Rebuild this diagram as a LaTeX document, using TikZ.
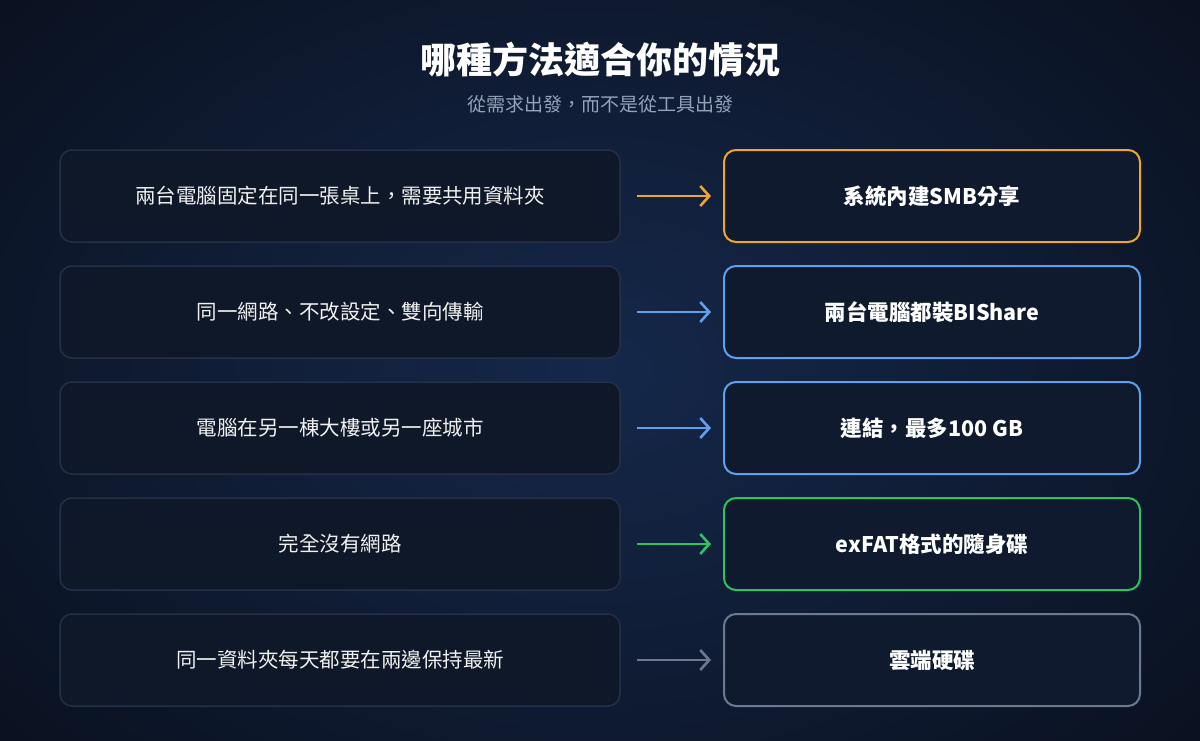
\documentclass[tikz,border=0pt]{standalone}
\usepackage{fontspec}
\setmainfont{Noto Sans CJK TC}
\usetikzlibrary{arrows.meta}
\definecolor{bgout}{HTML}{0A1120}
\definecolor{bgin}{HTML}{15284A}
\definecolor{lfill}{HTML}{0F1828}
\definecolor{lline}{HTML}{243047}
\definecolor{rfill}{HTML}{0F1A2E}
\definecolor{cor}{HTML}{F0A52C}
\definecolor{cbl}{HTML}{5FA0EE}
\definecolor{cgr}{HTML}{2CC45E}
\definecolor{cgy}{HTML}{6B7A90}
\definecolor{sub}{HTML}{94A3B8}
\begin{document}
\begin{tikzpicture}[x=1pt,y=-1pt,
  lbox/.style={draw=lline,line width=1.5pt,fill=lfill,rounded corners=12pt,minimum width=560pt,minimum height=92pt,text=white!88!gray,font=\fontsize{20.5}{24}\selectfont},
  rbox/.style={line width=2pt,fill=rfill,rounded corners=12pt,minimum width=416pt,minimum height=92pt,text=white,font=\bfseries\fontsize{21.5}{25}\selectfont},
  arr/.style={line width=2.6pt,-{Straight Barb[length=9pt,width=20pt,line width=2.6pt]}}]
\useasboundingbox (0,0) rectangle (1200,740);
\shade[inner color=bgin,outer color=bgout] (-200,-200) rectangle (1400,940);
\node[text=white,font=\bfseries\fontsize{36}{40}\selectfont] (t) at (600,60) {哪種方法適合你的情況};
\node[text=sub,font=\fontsize{19}{22}\selectfont] (s) at (600,104) {從需求出發，而不是從工具出發};
\foreach \i/\l/\r/\c in {0/兩台電腦固定在同一張桌上，需要共用資料夾/系統內建SMB分享/cor,
  1/同一網路、不改設定、雙向傳輸/兩台電腦都裝BIShare/cbl,
  2/電腦在另一棟大樓或另一座城市/連結，最多100 GB/cbl,
  3/完全沒有網路/exFAT格式的隨身碟/cgr,
  4/同一資料夾每天都要在兩邊保持最新/雲端硬碟/cgy}{
  \node[lbox] (l\i) at (340,196+116*\i) {\l};
  \node[rbox,draw=\c] (r\i) at (932,196+116*\i) {\r};
  \draw[arr,\c] ([xshift=16pt]l\i.east) -- ([xshift=-12pt]r\i.west);
}
\end{tikzpicture}
\end{document}
